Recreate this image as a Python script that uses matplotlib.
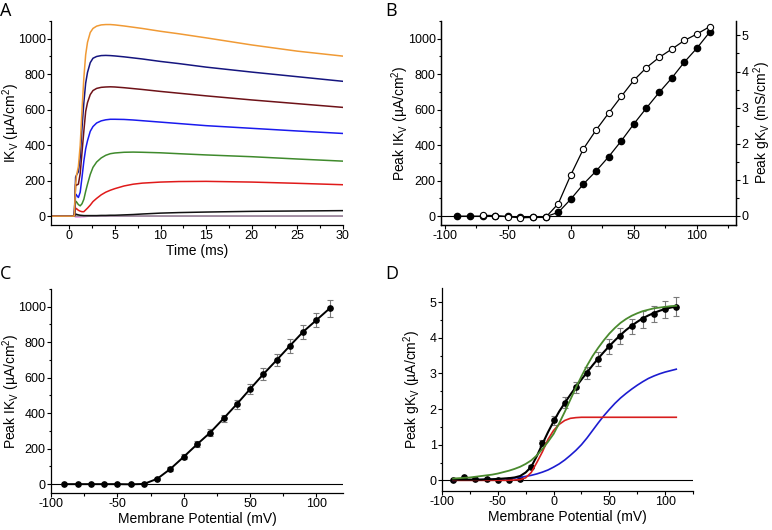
import matplotlib
matplotlib.use("Agg")
import matplotlib.pyplot as plt
from matplotlib.ticker import MultipleLocator

plt.rcParams['font.family'] = ['Liberation Sans', 'DejaVu Sans']
plt.rcParams['mathtext.fontset'] = 'custom'
plt.rcParams['mathtext.rm'] = 'Liberation Sans'
plt.rcParams['mathtext.it'] = 'Liberation Sans:italic'
plt.rcParams['axes.linewidth'] = 0.9
plt.rcParams['axes.unicode_minus'] = False

# ---- panel A: current traces (time in ms, current in uA/cm2)
tA = [-2, 0.55, 0.7, 0.8, 1.0, 1.2, 1.4, 1.6, 1.8, 2.0, 2.3, 2.6, 3.0, 3.5, 4.0, 4.5,
      5, 6, 7, 8, 10, 12, 15, 20, 25, 30]
i_orange = [0, 0, 180, 230, 280, 400, 600, 780, 910, 980, 1035, 1058, 1071, 1078, 1080, 1080,
            1078, 1072, 1065, 1058, 1042, 1028, 1005, 965, 930, 902]
i_navy = [0, 0, 220, 232, 250, 330, 500, 640, 750, 810, 865, 890, 900, 905, 906, 905,
          903, 898, 892, 886, 872, 860, 840, 812, 786, 760]
i_wine = [0, 0, 180, 175, 180, 240, 360, 480, 590, 640, 685, 708, 720, 726, 728, 729,
          728, 724, 719, 714, 703, 693, 678, 655, 634, 613]
i_blue = [0, 0, 125, 118, 105, 135, 220, 310, 380, 425, 478, 505, 525, 537, 543, 546,
          546, 545, 542, 538, 530, 522, 510, 495, 480, 466]
i_green = [0, 0, 85, 80, 65, 58, 70, 95, 140, 180, 235, 275, 305, 328, 343, 352,
           356, 360, 361, 360, 357, 352, 345, 335, 322, 310]
i_red = [0, 0, 45, 42, 33, 28, 25, 25, 35, 45, 62, 82, 100, 120, 135, 146,
         155, 170, 180, 186, 192, 195, 196, 192, 185, 177]
i_black = [0, 0, 12, 10, 7, 5, 4, 3, 3, 3, 3, 3, 3, 4, 4, 5,
           5, 7, 9, 12, 17, 20, 23, 27, 29, 31]
i_pink = [0, 0, -4, -4, -4, -4, -3, -3, -2, -1, 0, 0, 0, 0, 0, 0,
          0, 0, 0, 0, 0, 0, 0, 0, 0, 0]
i_gray = [0] * 26
tracesA = [(i_pink, '#e070e0'), (i_gray, '#909090'), (i_black, '#111111'), (i_red, '#e01a1a'),
           (i_green, '#3f8a2c'), (i_blue, '#1a1aee'), (i_wine, '#6e1218'),
           (i_navy, '#15157f'), (i_orange, '#f09a35')]

# ---- panel B: peak current (filled) and conductance (open)
vB = [-90, -80, -70, -60, -50, -40, -30, -20, -10, 0, 10, 20, 30, 40, 50, 60, 70, 80, 90, 100, 110]
ikB = [0, 0, 0, 0, -2, -5, -5, -3, 21, 96, 181, 254, 335, 424, 520, 610, 697, 778, 868, 947, 1036]
vB_g = [-70, -60, -50, -40, -30, -20, -10, 0, 10, 20, 30, 40, 50, 60, 70, 80, 90, 100, 110]
gkB = [0.02, 0.01, -0.02, -0.05, -0.04, -0.04, 0.34, 1.14, 1.86, 2.38, 2.85, 3.31, 3.76,
       4.11, 4.39, 4.62, 4.86, 5.04, 5.24]

# ---- panel C: mean peak current +/- error
vC = [-90, -80, -70, -60, -50, -40, -30, -20, -10, 0, 10, 20, 30, 40, 50, 60, 70, 80, 90, 100, 110]
ikC = [0, 0, 0, 0, 0, -1, 1, 30, 86, 154, 224, 291, 370, 451, 536, 620, 699, 780, 859, 925, 991]
ikC_err = [2, 2, 2, 2, 2, 2, 3, 7, 10, 14, 17, 20, 22, 25, 28, 32, 34, 38, 40, 42, 47]

# ---- panel D: mean peak conductance +/- error and fitted curves
vD = vC
gkD = [0, 0.08, 0.04, 0.05, 0.02, 0.02, 0.05, 0.38, 1.04, 1.68, 2.18, 2.61, 3.02, 3.41,
       3.77, 4.05, 4.32, 4.52, 4.67, 4.80, 4.88]
gkD_err = [0.02, 0.02, 0.02, 0.02, 0.02, 0.02, 0.03, 0.04, 0.08, 0.13, 0.15, 0.16, 0.17, 0.2,
           0.21, 0.22, 0.22, 0.24, 0.23, 0.23, 0.26]
vfit = list(range(-90, 111, 5))
g_total = [0.02, 0.02, 0.02, 0.02, 0.02, 0.02, 0.03, 0.03, 0.04, 0.05, 0.06, 0.08, 0.12, 0.22,
           0.38, 0.68, 1.02, 1.35, 1.65, 1.93, 2.17, 2.4, 2.62, 2.83, 3.03, 3.23, 3.42, 3.6,
           3.77, 3.93, 4.08, 4.22, 4.34, 4.45, 4.55, 4.63, 4.7, 4.76, 4.81, 4.85, 4.88]
g_single = [0.05, 0.06, 0.07, 0.08, 0.1, 0.12, 0.14, 0.16, 0.19, 0.23, 0.27, 0.32, 0.38, 0.46,
            0.56, 0.7, 0.88, 1.08, 1.3, 1.6, 1.92, 2.26, 2.6, 2.92, 3.22, 3.49, 3.72, 3.93,
            4.12, 4.28, 4.42, 4.53, 4.62, 4.69, 4.75, 4.79, 4.83, 4.85, 4.87, 4.89, 4.9]
g_fast = [0, 0, 0, 0, 0, 0, 0, 0, 0, 0, 0, 0.01, 0.02, 0.07, 0.22, 0.5, 0.8, 1.15, 1.4, 1.57,
          1.68, 1.74, 1.76] + [1.77] * 18
g_slow = [0.0, 0.005, 0.01, 0.01, 0.015, 0.02, 0.02, 0.025, 0.03, 0.04, 0.05, 0.065, 0.085,
          0.11, 0.14, 0.18, 0.23, 0.29, 0.37, 0.46, 0.57, 0.7, 0.84, 1.0, 1.19, 1.4, 1.61, 1.81,
          1.99, 2.16, 2.31, 2.44, 2.56, 2.67, 2.77, 2.86, 2.93, 2.99, 3.04, 3.08, 3.12]

W, H = 772, 530
fig = plt.figure(figsize=(W / 100, H / 100), dpi=100)


def box(l, r, t, b):
    return [l / W, 1 - b / H, (r - l) / W, (b - t) / H]


def style(ax, right=False):
    ax.spines['top'].set_visible(False)
    if not right:
        ax.spines['right'].set_visible(False)
    ax.tick_params(which='major', direction='out', length=3, width=0.8, labelsize=9, pad=0.8)
    ax.tick_params(which='minor', direction='out', length=1.8, width=0.8)


lab = dict(fontsize=10)
iklab = r'Peak IK$_\mathregular{V}$ (µA/cm$^\mathregular{2}$)'
gklab_D = r'Peak gK$_\mathregular{V}$ (µA/cm$^\mathregular{2}$)'

# A
axA = fig.add_axes(box(51, 343, 21, 225))
for y, c in tracesA:
    axA.plot(tA, y, color=c, lw=1.1)
axA.set_xlim(-2, 30)
axA.set_ylim(-50, 1100)
axA.xaxis.set_major_locator(MultipleLocator(5))
axA.xaxis.set_minor_locator(MultipleLocator(2.5))
axA.yaxis.set_major_locator(MultipleLocator(200))
axA.yaxis.set_minor_locator(MultipleLocator(100))
style(axA)
axA.set_xlabel('Time (ms)', labelpad=1.5, **lab)
axA.set_ylabel(r'IK$_\mathregular{V}$ (µA/cm$^\mathregular{2}$)', **lab)
axA.yaxis.set_label_coords((22 - 51) / 292, 0.5)

# B
axB = fig.add_axes(box(441, 736, 21, 225))
axB.axhline(0, color='black', lw=0.8)
axB.plot(vB, ikB, '-o', color='black', lw=0.9, ms=4.5, mfc='black', zorder=3)
axB.set_xlim(-103, 131)
axB.set_ylim(-50, 1100)
axB.xaxis.set_major_locator(MultipleLocator(50))
axB.xaxis.set_minor_locator(MultipleLocator(25))
axB.yaxis.set_major_locator(MultipleLocator(200))
axB.yaxis.set_minor_locator(MultipleLocator(100))
style(axB, right=True)
axB.set_ylabel(iklab, **lab)
axB.yaxis.set_label_coords((411 - 441) / 295, 0.5)
axB2 = axB.twinx()
axB2.plot(vB_g, gkB, '-o', color='black', lw=0.9, ms=4.5, mfc='white', mec='black', mew=0.8)
axB2.set_ylim(-0.25, 5.4)
axB2.yaxis.set_major_locator(MultipleLocator(1))
axB2.yaxis.set_minor_locator(MultipleLocator(0.5))
style(axB2, right=True)
axB2.set_ylabel(r'Peak gK$_\mathregular{V}$ (mS/cm$^\mathregular{2}$)', **lab)
axB2.yaxis.set_label_coords((751 - 441) / 295, 0.5)

# C
axC = fig.add_axes(box(51, 343, 289, 493))
axC.axhline(0, color='black', lw=0.8)
axC.errorbar(vC, ikC, yerr=ikC_err, fmt='none', ecolor='#7a7a7a', elinewidth=0.8, capsize=2.5,
             capthick=0.8)
axC.plot(vC, ikC, '-o', color='black', lw=1.4, ms=3.8)
axC.set_xlim(-100, 120)
axC.set_ylim(-50, 1100)
axC.xaxis.set_major_locator(MultipleLocator(50))
axC.xaxis.set_minor_locator(MultipleLocator(25))
axC.yaxis.set_major_locator(MultipleLocator(200))
axC.yaxis.set_minor_locator(MultipleLocator(100))
style(axC)
axC.set_xlabel('Membrane Potential (mV)', labelpad=1.5, **lab)
axC.set_ylabel(iklab, **lab)
axC.yaxis.set_label_coords((22 - 51) / 292, 0.5)

# D
axD = fig.add_axes(box(442, 693, 288, 491))
axD.axhline(0, color='black', lw=0.8)
axD.errorbar(vD, gkD, yerr=gkD_err, fmt='none', ecolor='#7a7a7a', elinewidth=0.8, capsize=2.5,
             capthick=0.8)
axD.plot(vD, gkD, 'o', color='black', ms=3.8)
axD.plot(vfit, g_slow, color='#1c1cd0', lw=1.2)
axD.plot(vfit, g_fast, color='#d81e1e', lw=1.2)
axD.plot(vfit, g_total, color='black', lw=1.5)
axD.plot(vfit, g_single, color='#4a8a2e', lw=1.3)
axD.set_xlim(-100, 125)
axD.set_ylim(-0.3, 5.4)
axD.xaxis.set_major_locator(MultipleLocator(50))
axD.xaxis.set_minor_locator(MultipleLocator(25))
axD.yaxis.set_major_locator(MultipleLocator(1))
axD.yaxis.set_minor_locator(MultipleLocator(0.5))
style(axD)
axD.set_xlabel('Membrane Potential (mV)', labelpad=1.5, **lab)
axD.set_ylabel(gklab_D, **lab)
axD.yaxis.set_label_coords((423 - 442) / 251, 0.5)

letter = dict(fontsize=13, family=['Open Sans', 'DejaVu Sans'], va='top', ha='left')
fig.text(0 / W, 1 - 2 / H, 'A', **letter)
fig.text(385 / W, 1 - 2 / H, 'B', **letter)
fig.text(0 / W, 1 - 265 / H, 'C', **letter)
fig.text(385 / W, 1 - 265 / H, 'D', **letter)

fig.savefig('out.png', dpi=100)
